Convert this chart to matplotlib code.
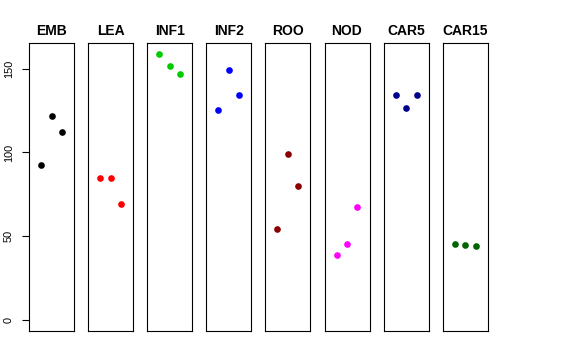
import numpy as np
import matplotlib
matplotlib.use("Agg")
import matplotlib.pyplot as plt

plt.rcParams['font.family'] = ['Liberation Sans', 'DejaVu Sans']

groups = ["EMB", "LEA", "INF1", "INF2", "ROO", "NOD", "CAR5", "CAR15"]
colors = ["black", "red", "#00CD00", "blue", "#8B0000", "magenta", "#00008B", "#006400"]
reps = [1, 2, 3]
values = [
    [92.4, 122.0, 112.0],
    [84.8, 84.8, 69.1],
    [158.7, 151.6, 146.8],
    [125.5, 149.0, 134.1],
    [54.2, 98.9, 80.1],
    [39.1, 45.7, 67.5],
    [134.1, 126.3, 134.1],
    [45.5, 44.7, 44.3],
]
yticks = [0, 50, 100, 150]

W, H = 576, 360
fig = plt.figure(figsize=(W / 100, H / 100), dpi=100)

ymax = max(max(v) for v in values)
ypad = 0.04 * ymax
left0, step, pw = 29, 59.1, 45
top, bottom = 43.3, 331

for i, (g, c, v) in enumerate(zip(groups, colors, values)):
    ax = fig.add_axes([(left0 + i * step) / W, (H - bottom) / H, pw / W, (bottom - top) / H])
    ax.plot(reps, v, "o", color=c, markersize=4.8, markeredgewidth=0)
    ax.set_xlim(-0.16, 4.16)
    ax.set_ylim(-ypad, ymax + ypad)
    ax.set_xticks([])
    ax.set_title(g, fontsize=10, fontweight="bold", pad=6)
    for s in ax.spines.values():
        s.set_linewidth(0.8)
    if i == 0:
        ax.tick_params(axis="y", length=5, width=0.8, pad=6, labelsize=7.8)
        ax.set_yticks(yticks)
        ax.set_yticklabels([str(t) for t in yticks])
        for t in ax.get_yticklabels():
            t.set_rotation(90)
            t.set_va("center")
            t.set_ha("right")
    else:
        ax.set_yticks([])

fig.savefig("out.png", dpi=100)
